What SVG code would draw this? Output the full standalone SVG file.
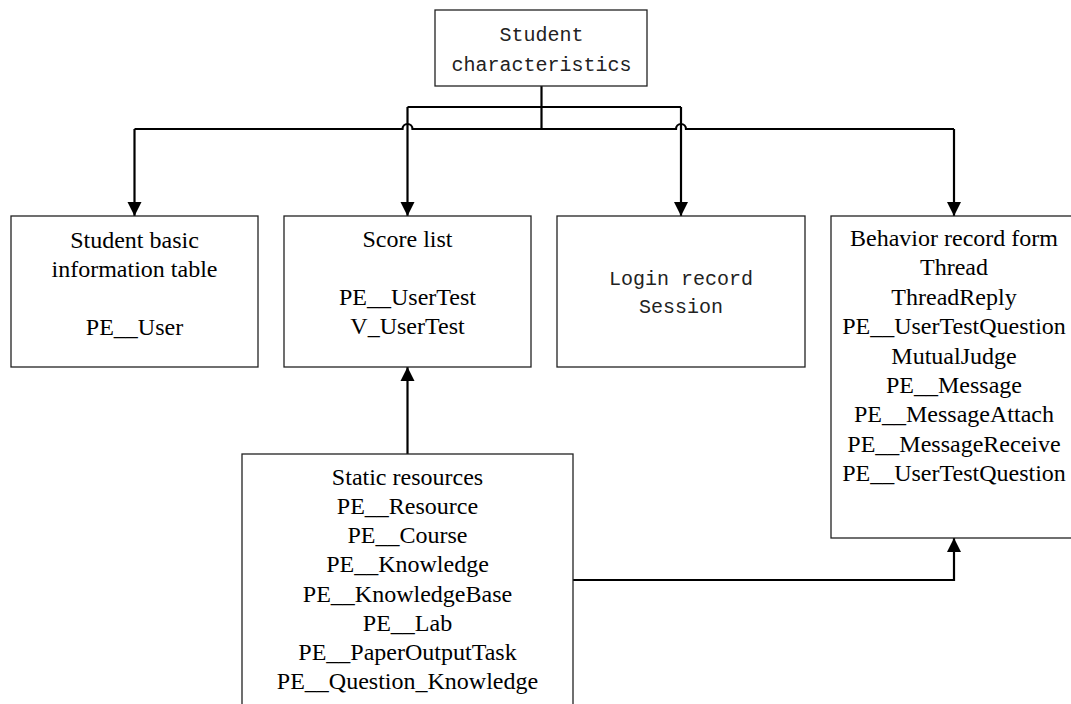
<svg xmlns="http://www.w3.org/2000/svg" width="1071" height="704" viewBox="0 0 1071 704">
<style>
.box{fill:#fff;stroke:#222;stroke-width:1.3}
.serif{font-family:"Liberation Serif","Times New Roman",serif;font-size:24px;fill:#000;text-anchor:middle}
.mono{font-family:"Liberation Mono","Courier New",monospace;font-size:20px;fill:#222;text-anchor:middle}
.conn{fill:none;stroke:#000;stroke-width:2.2}
</style>
<defs>
<marker id="arr" markerUnits="userSpaceOnUse" markerWidth="16" markerHeight="16" viewBox="0 0 16 16" refX="15" refY="8" orient="auto">
<path d="M1,1 L15,8 L1,15 Z" fill="#000"/>
</marker>
</defs>
<rect width="1071" height="704" fill="#fff"/>
<g id="connectors">
<path class="conn" d="M541.5,86 V129"/>
<path class="conn" d="M407.5,107 H681"/>
<path class="conn" d="M407.5,107 V216" marker-end="url(#arr)"/>
<path class="conn" d="M681,107 V216" marker-end="url(#arr)"/>
<path class="conn" d="M134.5,129 H402.5 A5,5 0 0 1 412.5,129 H676 A5,5 0 0 1 686,129 H954"/>
<path class="conn" d="M134.5,129 V216" marker-end="url(#arr)"/>
<path class="conn" d="M954,129 V216" marker-end="url(#arr)"/>
<path class="conn" d="M407.5,454 V367" marker-end="url(#arr)"/>
<path class="conn" d="M573,580 H954 V538" marker-end="url(#arr)"/>
</g>
<g id="student-characteristics">
<rect class="box" x="435" y="10" width="212" height="76"/>
<text class="mono" x="541.5" y="41">Student</text>
<text class="mono" x="541.5" y="71">characteristics</text>
</g>
<g id="basic-info">
<rect class="box" x="11" y="216" width="247" height="151"/>
<text class="serif" x="134.5" y="248">Student basic</text>
<text class="serif" x="134.5" y="277">information table</text>
<text class="serif" x="134.5" y="335">PE__User</text>
</g>
<g id="score-list">
<rect class="box" x="284" y="216" width="247" height="151"/>
<text class="serif" x="407.5" y="247">Score list</text>
<text class="serif" x="407.5" y="305">PE__UserTest</text>
<text class="serif" x="407.5" y="334">V_UserTest</text>
</g>
<g id="login-record">
<rect class="box" x="557" y="216" width="248" height="151"/>
<text class="mono" x="681" y="285">Login record</text>
<text class="mono" x="681" y="313">Session</text>
</g>
<g id="behavior-record">
<rect class="box" x="831" y="216" width="246" height="322"/>
<text class="serif" x="954" y="246">Behavior record form</text>
<text class="serif" x="954" y="275">Thread</text>
<text class="serif" x="954" y="305">ThreadReply</text>
<text class="serif" x="954" y="334">PE__UserTestQuestion</text>
<text class="serif" x="954" y="364">MutualJudge</text>
<text class="serif" x="954" y="393">PE__Message</text>
<text class="serif" x="954" y="422">PE__MessageAttach</text>
<text class="serif" x="954" y="452">PE__MessageReceive</text>
<text class="serif" x="954" y="481">PE__UserTestQuestion</text>
</g>
<g id="static-resources">
<rect class="box" x="242" y="454" width="331" height="260"/>
<text class="serif" x="407.5" y="485">Static resources</text>
<text class="serif" x="407.5" y="514">PE__Resource</text>
<text class="serif" x="407.5" y="543">PE__Course</text>
<text class="serif" x="407.5" y="572">PE__Knowledge</text>
<text class="serif" x="407.5" y="602">PE__KnowledgeBase</text>
<text class="serif" x="407.5" y="631">PE__Lab</text>
<text class="serif" x="407.5" y="660">PE__PaperOutputTask</text>
<text class="serif" x="407.5" y="689">PE__Question_Knowledge</text>
</g>
</svg>
